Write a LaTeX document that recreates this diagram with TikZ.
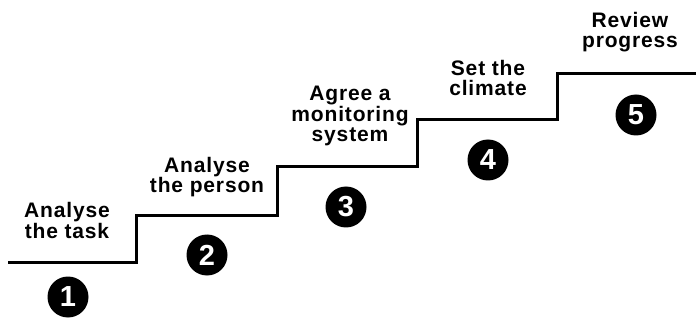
\documentclass[tikz,border=0pt]{standalone}
\usepackage{fontspec}
\setmainfont{Liberation Sans}
\newfontfamily\stepfont[LetterSpace=4]{Liberation Sans}
\begin{document}
\begin{tikzpicture}[x=1pt,y=-1pt,
  stair/.style={line width=3pt,line join=miter},
  steplabel/.style={align=center,anchor=base,inner sep=0pt,
    font=\stepfont\bfseries\fontsize{21}{20.5}\selectfont},
  stepnum/.style={circle,fill=black,text=white,minimum size=41pt,inner sep=0pt,
    font=\bfseries\fontsize{29}{29}\selectfont}]
\useasboundingbox (0,0) rectangle (696,323);
% corners of the staircase
\coordinate (s0) at (8,262);
\coordinate (s1) at (136,216);
\coordinate (s2) at (277,167);
\coordinate (s3) at (417,120);
\coordinate (s4) at (557,74);
\coordinate (s5) at (696,74);
\draw[stair] (s0) -| (s1) -| (s2) -| (s3) -| (s4) -- (s5);
% step labels (anchored at the baseline of the last line)
\node[steplabel] (l1) at (67,238) {Analyse\\the task};
\node[steplabel] (l2) at (207,193) {Analyse\\the person};
\node[steplabel] (l3) at (350,142) {Agree a\\monitoring\\system};
\node[steplabel] (l4) at (488,96) {Set the\\climate};
\node[steplabel] (l5) at (630,48) {Review\\progress};
% step numbers
\node[stepnum] (c1) at (68,297) {1};
\node[stepnum] (c2) at (207,255) {2};
\node[stepnum] (c3) at (346,207) {3};
\node[stepnum] (c4) at (488,160) {4};
\node[stepnum] (c5) at (636,115) {5};
\end{tikzpicture}
\end{document}
